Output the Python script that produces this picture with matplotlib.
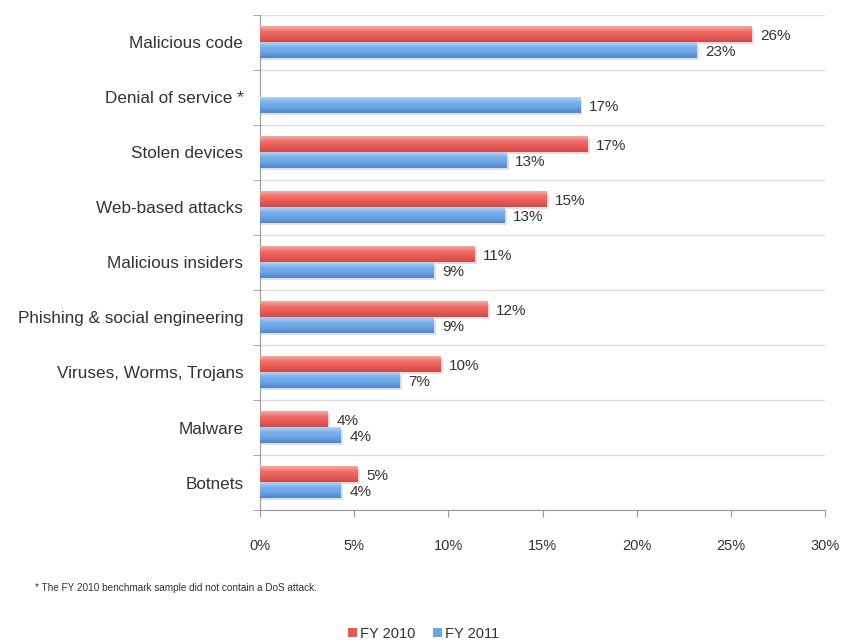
import numpy as np
import matplotlib
matplotlib.use("Agg")
import matplotlib.pyplot as plt
from matplotlib.patches import Patch

plt.rcParams['font.family'] = ['Liberation Sans', 'DejaVu Sans']

categories = ["Malicious code", "Denial of service *", "Stolen devices",
              "Web-based attacks", "Malicious insiders",
              "Phishing & social engineering", "Viruses, Worms, Trojans",
              "Malware", "Botnets"]
fy2010 = [26.1, np.nan, 17.4, 15.2, 11.4, 12.1, 9.6, 3.6, 5.2]
fy2011 = [23.2, 17.0, 13.1, 13.0, 9.2, 9.2, 7.4, 4.3, 4.3]
xticks = [0, 5, 10, 15, 20, 25, 30]
footnote = "* The FY 2010 benchmark sample did not contain a DoS attack."

red_grad = ["#f6aaa4", "#ef6f69", "#e65a55", "#cf4a45"]
blue_grad = ["#b4d3f4", "#79afea", "#6aa2e2", "#4f85c9"]
text_col = "#333333"

fig = plt.figure(figsize=(8.47, 6.44), dpi=100)
ax = fig.add_axes([0.307, 0.208, 0.667, 0.769])

y = np.arange(len(categories))
h = 0.28


def grad_bars(vals, offset, cols, face):
    bars = ax.barh(y + offset, np.nan_to_num(vals), height=h, color=face,
                   edgecolor="none", zorder=3)
    cmap = matplotlib.colors.LinearSegmentedColormap.from_list("g", cols)
    g = np.linspace(0, 1, 64).reshape(-1, 1)
    for b, v in zip(bars, vals):
        if np.isnan(v):
            continue
        x0, y0, w, hh = b.get_x(), b.get_y(), b.get_width(), b.get_height()
        # soft shadow
        ax.barh(y0 + hh / 2 + 0.04, w + 0.12, height=hh, left=0,
                color="#000000", alpha=0.12, edgecolor="none", zorder=2)
        ax.imshow(g, cmap=cmap, extent=[x0, x0 + w, y0 + hh, y0],
                  aspect="auto", zorder=4, interpolation="bicubic")
        ax.text(x0 + w + 0.45, y0 + hh / 2 + 0.03, f"{v:.0f}%", va="center",
                ha="left", fontsize=11, color=text_col, zorder=5)
    return bars


grad_bars(fy2010, -0.145, red_grad, red_grad[2])
grad_bars(fy2011, 0.145, blue_grad, blue_grad[2])

ax.set_xlim(0, 30)
ax.set_ylim(len(categories) - 0.5, -0.5)
ax.set_xticks(xticks)
ax.set_xticklabels([f"{t}%" for t in xticks], fontsize=10.5, color=text_col)
ax.set_yticks(y)
ax.set_yticklabels(categories, fontsize=12.3, color=text_col)
ax.tick_params(axis="y", length=0, pad=12)
ax.tick_params(axis="x", length=5, color="#999999", pad=16, direction="out")
ax.set_yticks(np.arange(-0.5, len(categories), 1), minor=True)
ax.tick_params(axis="y", which="minor", length=5, color="#999999")
ax.grid(axis="y", which="minor", color="#dddddd", linewidth=1, zorder=0)
ax.grid(axis="y", which="major", visible=False)

for s in ["top", "right"]:
    ax.spines[s].set_visible(False)
for s in ["left", "bottom"]:
    ax.spines[s].set_color("#999999")

fig.text(35 / 847, 1 - 588 / 644, footnote, fontsize=7.2, color=text_col,
         va="center", ha="left")

handles = [Patch(facecolor=red_grad[2], label="FY 2010"),
           Patch(facecolor=blue_grad[2], label="FY 2011")]
fig.legend(handles=handles, loc="center", bbox_to_anchor=(0.5, 1 - 634 / 644),
           ncol=2, frameon=False, fontsize=10.5, handlelength=0.6,
           handleheight=0.6, handletextpad=0.2, columnspacing=1.2,
           labelcolor=text_col)

fig.savefig("out.png", dpi=100)
